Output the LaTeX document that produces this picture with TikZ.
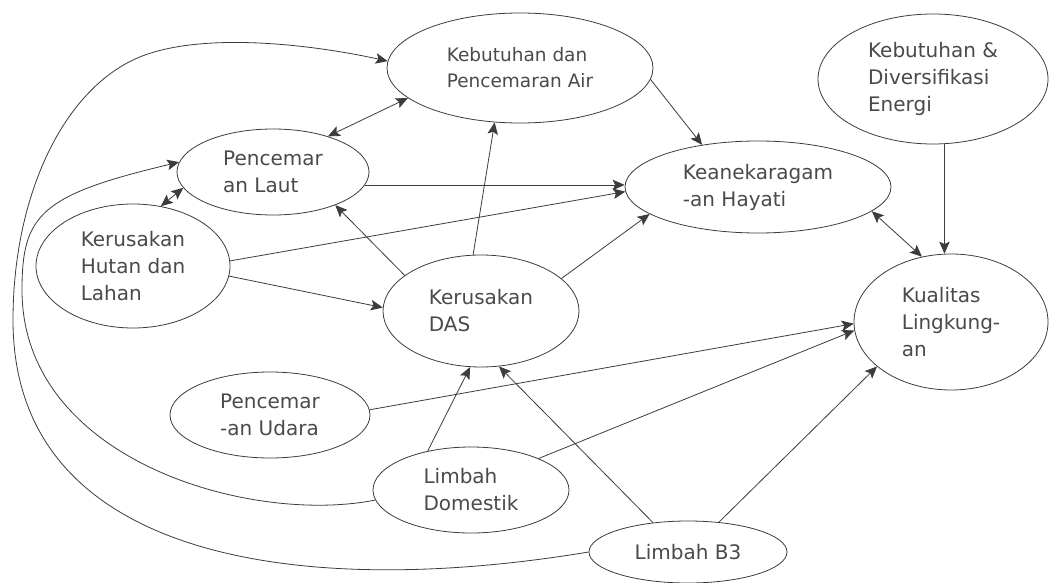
\documentclass[tikz,border=0pt]{standalone}
\usepackage{fontspec}
\setmainfont{DejaVu Sans}
\usetikzlibrary{arrows.meta,shapes.geometric}
\definecolor{ink}{HTML}{3C3C3C}
\definecolor{txt}{HTML}{4A4A4A}
\begin{document}
\begin{tikzpicture}[x=1pt,y=-1pt,
  el/.style={ellipse, draw=ink, line width=0.8pt, inner sep=0pt, align=left, text=txt,
             font=\fontsize{20}{27}\selectfont},
  arr/.style={draw=ink, line width=0.8pt, -{Stealth[length=12pt,width=10.5pt,inset=2.5pt]}},
  darr/.style={draw=ink, line width=0.8pt,
               {Stealth[length=12pt,width=10.5pt,inset=2.5pt]}-{Stealth[length=12pt,width=10.5pt,inset=2.5pt]}}]
\useasboundingbox[fill=white] (0,0) rectangle (1049,583);

% nodes
\node[el, minimum width=266pt, minimum height=110pt, font=\fontsize{18.5}{26}\selectfont] (KPA) at (520,68) {Kebutuhan dan\\Pencemaran Air};
\node[el, minimum width=230pt, minimum height=130pt] (KDE) at (933,79) {Kebutuhan \&\\Diversifikasi\\Energi};
\node[el, minimum width=192pt, minimum height=86pt] (PL) at (273,172) {Pencemar\\an Laut};
\node[el, minimum width=194pt, minimum height=124pt] (KHL) at (133,266) {Kerusakan\\Hutan dan\\Lahan};
\node[el, minimum width=266pt, minimum height=92pt] (KH) at (758,187) {Keanekaragam\\-an Hayati};
\node[el, minimum width=196pt, minimum height=112pt] (KD) at (481,311) {Kerusakan\\DAS};
\node[el, minimum width=194pt, minimum height=136pt] (KL) at (951,322) {Kualitas\\Lingkung-\\an};
\node[el, minimum width=200pt, minimum height=86pt] (PU) at (270,415) {Pencemar\\-an Udara};
\node[el, minimum width=196pt, minimum height=86pt] (LD) at (471,490) {Limbah\\Domestik};
\node[el, minimum width=198pt, minimum height=62pt] (LB3) at (688,552) {Limbah B3};

% straight connectors
\draw[arr] (KPA.-5) -- (KH.143);
\draw[darr] (PL.33) -- (KPA.195);
\draw[darr] (KHL.65) -- (PL.190);
\draw[arr] (PL.-8) -- (PL.-8 -| KH.west);
\draw[arr] (KHL.3.5) -- (KH.182.5);
\draw[arr] (KHL.-6) -- (KD.178);
\draw[arr] (KD.155) -- (PL.-28);
\draw[arr] (KD.98) -- (KPA.245.6);
\draw[arr] (KD.22.5) -- (KH.194);
\draw[darr] (KH.-12) -- (KL.114);
\draw[arr] (KDE.280) -- (KDE.280 |- KL.north);
\draw[arr] (PU.3) -- (KL.181.7);
\draw[arr] (LD.25.6) -- (KL.185.7);
\draw[arr] (LB3.44) -- (KL.211);
\draw[arr] (LD.138.6) -- (KD.259.4);
\draw[arr] (LB3.140) -- (KD.288.7);

% curved connectors round the left side
\draw[arr] (LB3.180) .. controls (300,600) and (13,560) .. (13,320)
  .. controls (13,200) and (60,95) .. (133,60)
  .. controls (191,32) and (300,42) .. (KPA.177.3);
\draw[arr] (LD.186) .. controls (250,525) and (22,460) .. (22,290)
  .. controls (22,215) and (40,195) .. (PL.174);
\end{tikzpicture}
\end{document}
